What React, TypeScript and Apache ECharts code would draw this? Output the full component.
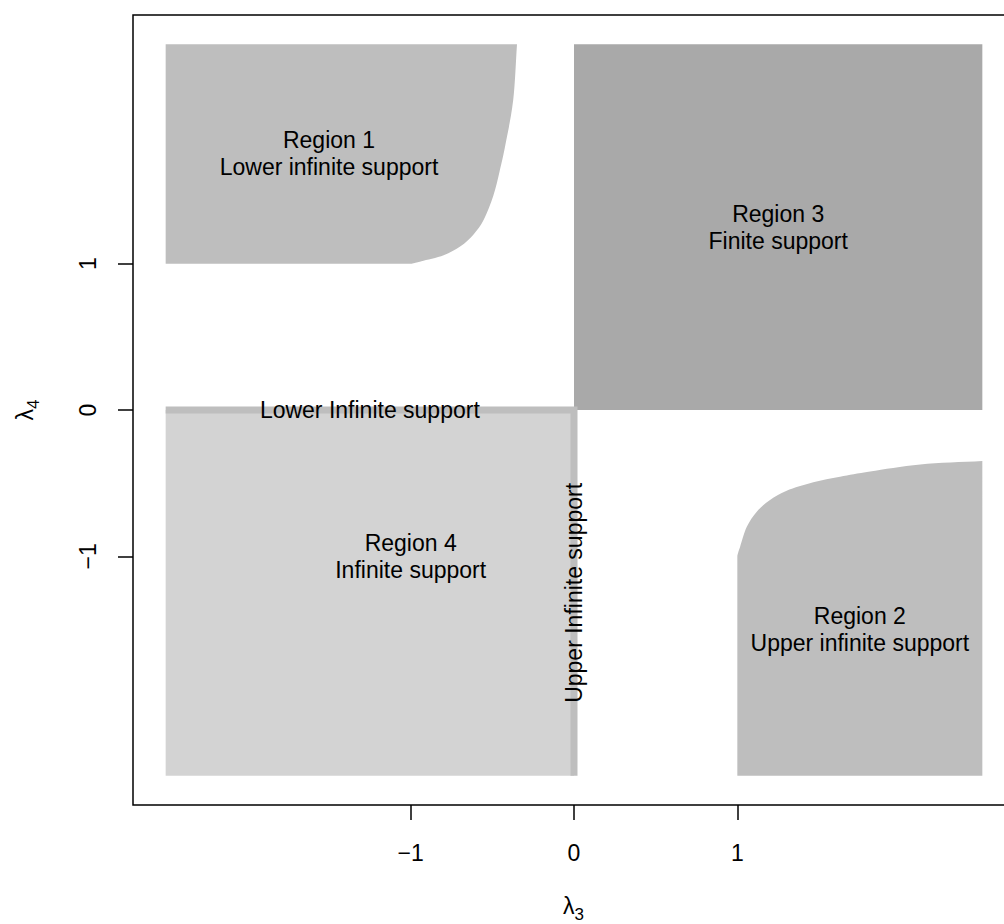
import React, { useEffect, useRef } from "react";
import * as echarts from "echarts";

const FONT = '"Liberation Sans", Arial, Helvetica, sans-serif';

// Axis extent and ticks
const AXIS_MIN = -2.7;
const AXIS_MAX = 2.7;
const tickValues = [-1, 0, 1];
const tickLabels = ["\u22121", "0", "1"];

// Outer limit of the shaded regions
const EDGE = 2.5;

// Boundary of region 2 (λ3 ≥ 1, λ4 ≤ -1 side); region 1 is the same curve with λ3 and λ4 swapped.
const boundaryMajor = [1.0, 1.005, 1.017, 1.058, 1.119, 1.2, 1.302, 1.465, 1.629, 1.813, 2.12, 2.5];
const boundaryMinor = [-1.0, -0.975, -0.934, -0.798, -0.695, -0.615, -0.552, -0.494, -0.456, -0.42, -0.372, -0.349];

// Thick border of region 4: along λ4 = 0 (λ3 ≤ 0) and λ3 = 0 (λ4 ≤ 0)
const edgeLineX = [-2.5, 0, 0];
const edgeLineY = [0, 0, -2.5];

// Region annotations
const labelX = [-1.5, 1.25, -1, 1.75, -1.25, 0];
const labelY = [1.75, 1.25, -1, -1.5, 0, -1.25];
const labelText = [
  "Region 1\nLower infinite support",
  "Region 3\nFinite support",
  "Region 4\nInfinite support",
  "Region 2\nUpper infinite support",
  "Lower Infinite support",
  "Upper Infinite support",
];
const labelRotated = [false, false, false, false, false, true];

const COLOR_FINITE = "#A9A9A9";
const COLOR_INFINITE = "#D3D3D3";
const COLOR_HALF = "#BEBEBE";
const COLOR_EDGE = "#BEBEBE";

type Pt = number[];

function polygonSeries(points: Pt[], color: string) {
  return {
    type: "custom",
    coordinateSystem: "cartesian2d",
    silent: true,
    z: 2,
    data: points,
    encode: { x: 0, y: 1 },
    renderItem: (params: any, api: any) => {
      if (params.dataIndex !== 0) return null;
      return {
        type: "polygon",
        shape: { points: points.map((p) => api.coord(p)) },
        style: { fill: color, stroke: "none" },
      };
    },
  };
}

// Region bounded by straight edges plus a smooth boundary curve through the measured points.
// `before` leads into the curve, `after` follows it.
function curvedRegionSeries(before: Pt[], curve: Pt[], after: Pt[], color: string) {
  const all = [...before, ...curve, ...after];
  return {
    type: "custom",
    coordinateSystem: "cartesian2d",
    silent: true,
    z: 2,
    data: all,
    encode: { x: 0, y: 1 },
    renderItem: (params: any, api: any) => {
      if (params.dataIndex !== 0) return null;
      const b = before.map((p) => api.coord(p));
      const c = curve.map((p) => api.coord(p));
      const a = after.map((p) => api.coord(p));
      const n = c.length;
      // tangents: ends follow the adjoining straight edge / last chord
      const tangents: number[][] = [];
      for (let i = 0; i < n; i++) {
        if (i === 0) {
          const prev = b[b.length - 1];
          const ux = c[0][0] - prev[0];
          const uy = c[0][1] - prev[1];
          const len = Math.hypot(ux, uy) || 1;
          const dx = c[1][0] - c[0][0];
          const dy = c[1][1] - c[0][1];
          const proj = (dx * ux + dy * uy) / len;
          tangents.push([(ux / len) * proj, (uy / len) * proj]);
        } else if (i === n - 1) {
          tangents.push([c[i][0] - c[i - 1][0], c[i][1] - c[i - 1][1]]);
        } else {
          tangents.push([(c[i + 1][0] - c[i - 1][0]) / 2, (c[i + 1][1] - c[i - 1][1]) / 2]);
        }
      }
      let d = `M${b[0][0]},${b[0][1]}`;
      for (let i = 1; i < b.length; i++) d += `L${b[i][0]},${b[i][1]}`;
      d += `L${c[0][0]},${c[0][1]}`;
      for (let i = 0; i < n - 1; i++) {
        const c1x = c[i][0] + tangents[i][0] / 3;
        const c1y = c[i][1] + tangents[i][1] / 3;
        const c2x = c[i + 1][0] - tangents[i + 1][0] / 3;
        const c2y = c[i + 1][1] - tangents[i + 1][1] / 3;
        d += `C${c1x},${c1y},${c2x},${c2y},${c[i + 1][0]},${c[i + 1][1]}`;
      }
      for (let i = 0; i < a.length; i++) d += `L${a[i][0]},${a[i][1]}`;
      d += "Z";
      return {
        type: "path",
        shape: { pathData: d },
        style: { fill: color, stroke: "none" },
      };
    },
  };
}

export default function App() {
  const ref = useRef<HTMLDivElement>(null);

  useEffect(() => {
    if (!ref.current) return;
    const chart = echarts.init(ref.current, undefined, { renderer: "svg" });

    const finiteSquare = [
      [0, 0],
      [EDGE, 0],
      [EDGE, EDGE],
      [0, EDGE],
    ];
    const infiniteSquare = [
      [-EDGE, -EDGE],
      [0, -EDGE],
      [0, 0],
      [-EDGE, 0],
    ];
    const region2Curve = boundaryMajor.map((v, i) => [v, boundaryMinor[i]]);
    const region1Curve = boundaryMajor.map((v, i) => [boundaryMinor[i], v]);

    const axisLabelFormatter = (v: number) => {
      const i = tickValues.indexOf(v);
      return i >= 0 ? tickLabels[i] : "";
    };

    const subscriptRich = {
      l: { fontSize: 23, fontFamily: FONT, fill: "#000", lineHeight: 26, verticalAlign: "top" },
      s: {
        fontSize: 17,
        fontFamily: FONT,
        fill: "#000",
        lineHeight: 17,
        verticalAlign: "top",
        padding: [12, 0, 0, 0],
      },
    };

    const option: any = {
      animation: false,
      backgroundColor: "#ffffff",
      grid: {
        left: 133,
        top: 15,
        width: 882,
        height: 790,
        show: true,
        borderColor: "#000",
        borderWidth: 1.5,
        backgroundColor: "transparent",
        containLabel: false,
        outerBoundsMode: "none",
      },
      xAxis: {
        type: "value",
        min: AXIS_MIN,
        max: AXIS_MAX,
        axisLine: { show: false, onZero: false },
        splitLine: { show: false },
        axisTick: {
          show: true,
          customValues: tickValues,
          length: 15,
          lineStyle: { color: "#000", width: 1.5 },
        },
        axisLabel: {
          customValues: tickValues,
          formatter: axisLabelFormatter,
          fontSize: 23,
          fontFamily: FONT,
          color: "#000",
          margin: 36,
        },
      },
      yAxis: {
        type: "value",
        min: AXIS_MIN,
        max: AXIS_MAX,
        axisLine: { show: false, onZero: false },
        splitLine: { show: false },
        axisTick: {
          show: true,
          customValues: tickValues,
          length: 15,
          lineStyle: { color: "#000", width: 1.5 },
        },
        axisLabel: {
          customValues: tickValues,
          formatter: axisLabelFormatter,
          fontSize: 23,
          fontFamily: FONT,
          color: "#000",
          margin: 34,
          rotate: 90,
        },
      },
      graphic: [
        {
          type: "text",
          x: 573.5,
          y: 907,
          silent: true,
          style: {
            text: "{l|\u03bb}{s|3}",
            align: "center",
            verticalAlign: "middle",
            rich: subscriptRich,
          },
        },
        {
          type: "text",
          x: 26,
          y: 410,
          rotation: Math.PI / 2,
          silent: true,
          style: {
            text: "{l|\u03bb}{s|4}",
            align: "center",
            verticalAlign: "middle",
            rich: subscriptRich,
          },
        },
      ],
      series: [
        polygonSeries(infiniteSquare, COLOR_INFINITE),
        {
          type: "line",
          silent: true,
          z: 2,
          data: edgeLineX.map((x, i) => [x, edgeLineY[i]]),
          symbol: "none",
          lineStyle: { color: COLOR_EDGE, width: 7, cap: "butt", join: "miter" },
        },
        polygonSeries(finiteSquare, COLOR_FINITE),
        curvedRegionSeries([[-EDGE, EDGE], [-EDGE, 1]], region1Curve, [], COLOR_HALF),
        curvedRegionSeries([[EDGE, -EDGE], [1, -EDGE]], region2Curve, [], COLOR_HALF),
        {
          type: "custom",
          coordinateSystem: "cartesian2d",
          silent: true,
          z: 5,
          data: labelX.map((x, i) => [x, labelY[i]]),
          encode: { x: 0, y: 1 },
          renderItem: (params: any, api: any) => {
            const i = params.dataIndex;
            const [px, py] = api.coord([api.value(0), api.value(1)]);
            return {
              type: "text",
              x: px,
              y: py,
              rotation: labelRotated[i] ? Math.PI / 2 : 0,
              style: {
                text: labelText[i],
                fontSize: 23,
                fontFamily: FONT,
                fill: "#000",
                align: "center",
                verticalAlign: "middle",
                lineHeight: 27,
              },
            };
          },
        },
      ],
    };

    chart.setOption(option);
    return () => chart.dispose();
  }, []);

  return (
    <div
      ref={ref}
      style={{ position: "absolute", left: 0, top: 0, width: 1004, height: 924, background: "#fff" }}
    />
  );
}
